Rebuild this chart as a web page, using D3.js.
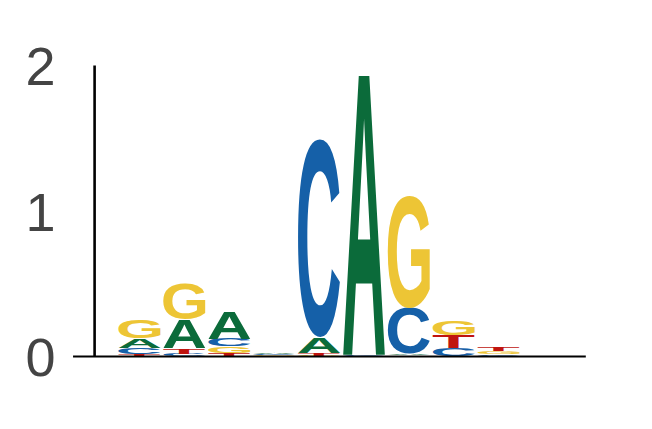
<!DOCTYPE html>
<html>
<head>
<meta charset="utf-8">
<script src="https://cdn.jsdelivr.net/npm/d3@7"></script>
<style>
  body { margin: 0; background: #fff; }
  svg { display: block; }
  .axis text { fill: #444; font-family: "Liberation Sans", Arial, sans-serif; font-size: 54px; }
</style>
</head>
<body>
<div id="chart"></div>
<script>
// information content (bits) per letter, positions 1..9
const positions = [1, 2, 3, 4, 5, 6, 7, 8, 9];
const bitsA = [0.065, 0.20, 0.19, 0.010, 0.11, 1.95, 0.010, 0.006, 0.005];
const bitsC = [0.040, 0.020, 0.05, 0.008, 1.36, 0.006, 0.32, 0.050, 0.012];
const bitsG = [0.125, 0.24, 0.045, 0.007, 0.004, 0.003, 0.77, 0.100, 0.020];
const bitsT = [0.020, 0.035, 0.025, 0.005, 0.020, 0.003, 0.008, 0.090, 0.030];
const yTicks = [0, 1, 2];

const colors = { A: '#0b6b3a', C: '#1560a8', G: '#edc535', T: '#c0140f' };
const glyphFont = 'bold 100px "Liberation Sans"';

const width = 652, height = 429;
const svg = d3.select('#chart').append('svg')
  .attr('width', width)
  .attr('height', height);

const x = d3.scaleLinear().domain([0, 10]).range([94.6, 543.6]);
const y = d3.scaleLinear().domain([0, 2]).range([356.5, 65.5]);
const colWidth = 0.94;

// tight glyph bounds measured on a canvas
const ctx = document.createElement('canvas').getContext('2d');
ctx.font = glyphFont;
const metrics = {};
['A', 'C', 'G', 'T'].forEach(l => {
  const m = ctx.measureText(l);
  metrics[l] = {
    left: m.actualBoundingBoxLeft,
    right: m.actualBoundingBoxRight,
    ascent: m.actualBoundingBoxAscent,
    descent: m.actualBoundingBoxDescent
  };
});

const stacks = positions.map((p, i) => {
  const letters = [
    { letter: 'A', value: bitsA[i] },
    { letter: 'C', value: bitsC[i] },
    { letter: 'G', value: bitsG[i] },
    { letter: 'T', value: bitsT[i] }
  ].sort((a, b) => a.value - b.value);
  let floor = 0;
  letters.forEach(d => {
    d.pos = p;
    d.y0 = floor;
    d.y1 = floor + d.value;
    floor = d.y1;
  });
  return letters;
});

const glyphs = svg.append('g').attr('class', 'glyphs');
glyphs.selectAll('text')
  .data(stacks.flat())
  .join('text')
  .attr('x', 0)
  .attr('y', 0)
  .style('font', glyphFont)
  .attr('fill', d => colors[d.letter])
  .attr('transform', d => {
    const m = metrics[d.letter];
    const x0 = x(d.pos - colWidth / 2);
    const w = x(d.pos + colWidth / 2) - x0;
    const top = y(d.y1);
    const h = y(d.y0) - top;
    const sx = w / (m.left + m.right);
    const sy = h / (m.ascent + m.descent);
    return `translate(${x0},${top}) scale(${sx},${sy}) translate(${m.left},${m.ascent})`;
  })
  .text(d => d.letter);

// spines
svg.append('line')
  .attr('x1', x(-0.48)).attr('x2', x(10.94))
  .attr('y1', y(0)).attr('y2', y(0))
  .attr('stroke', '#000').attr('stroke-width', 2);

svg.append('line')
  .attr('x1', x(0)).attr('x2', x(0))
  .attr('y1', y(0)).attr('y2', y(2))
  .attr('stroke', '#000').attr('stroke-width', 2.6);

const yAxisG = svg.append('g')
  .attr('class', 'axis')
  .attr('transform', `translate(${x(0)},0)`)
  .call(d3.axisLeft(y).tickValues(yTicks).tickFormat(d3.format('d')).tickSize(0).tickPadding(39));
yAxisG.select('.domain').remove();
yAxisG.selectAll('text').attr('dy', '0.36em');
</script>
</body>
</html>
